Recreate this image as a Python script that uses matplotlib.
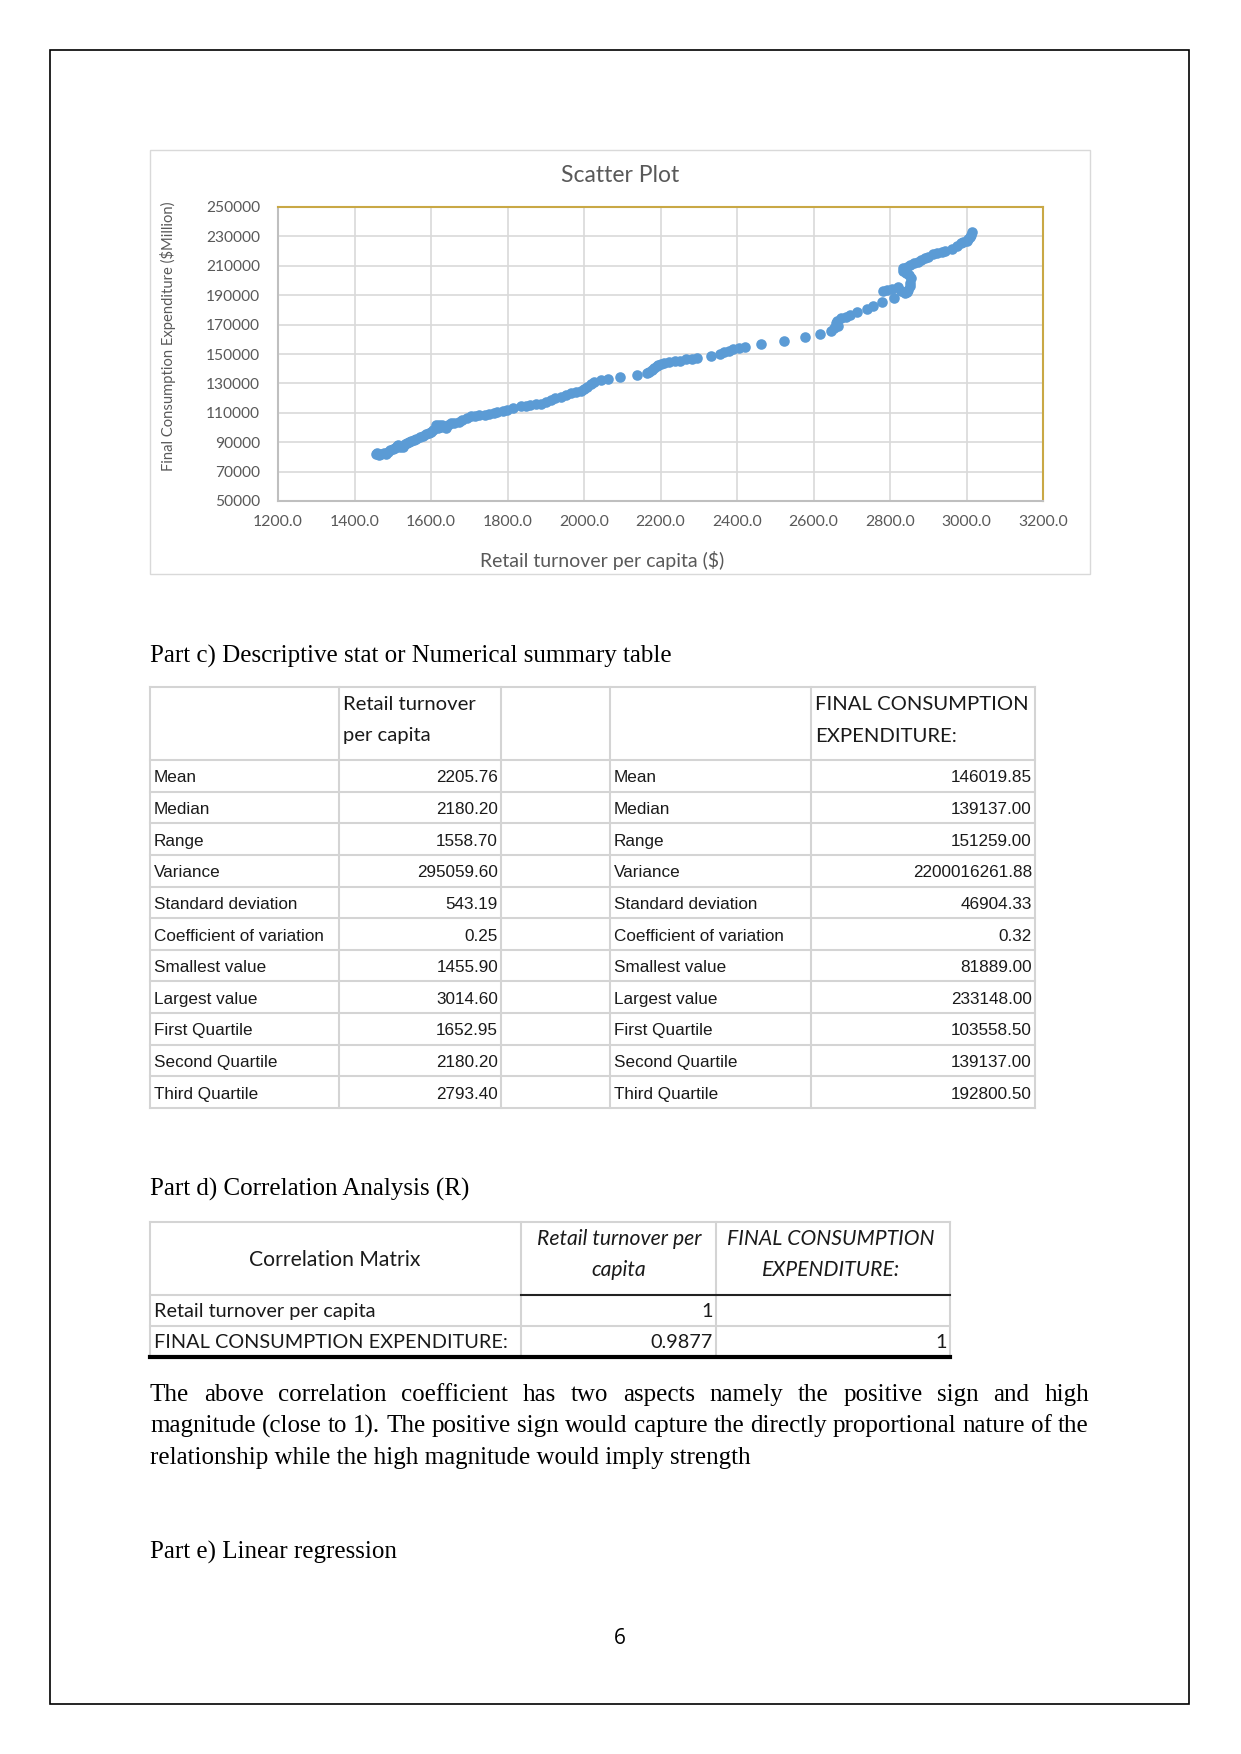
import matplotlib
matplotlib.use("Agg")
import matplotlib.pyplot as plt
from matplotlib.patches import Rectangle
from matplotlib.ticker import FuncFormatter, FixedLocator

# scatter data (retail turnover per capita vs final consumption expenditure)
retail = [1456, 1460, 1465, 1470, 1476, 1482, 1488, 1494, 1500, 1505, 1510, 1515, 1520, 1528,
          1532, 1537, 1542, 1548, 1555, 1562, 1572, 1580, 1588, 1594, 1600, 1606, 1612, 1618,
          1620, 1625, 1630, 1638, 1645, 1651, 1660, 1673, 1682, 1695, 1705, 1715, 1725, 1740,
          1751, 1765, 1773, 1787, 1799, 1815, 1834, 1848, 1860, 1875, 1887, 1900, 1913, 1925,
          1939, 1952, 1965, 1980, 1992, 2000, 2009, 2018, 2027, 2045, 2062, 2095, 2138, 2165,
          2171, 2178, 2184, 2190, 2193, 2200, 2210, 2223, 2237, 2250, 2267, 2282, 2296, 2331,
          2356, 2366, 2378, 2389, 2405, 2420, 2463, 2523, 2577, 2618, 2645, 2653, 2665, 2660,
          2662, 2673, 2685, 2695, 2715, 2739, 2756, 2778, 2811, 2782, 2793, 2804, 2822, 2830,
          2839, 2845, 2848, 2852, 2852, 2856, 2850, 2843, 2835, 2835, 2845, 2852, 2863, 2874,
          2882, 2891, 2900, 2913, 2922, 2935, 2945, 2961, 2975, 2985, 2992, 3000, 3005, 3010,
          3012, 3014.6]
fce = [81889, 82800, 81500, 82300, 82400, 82000, 83500, 84700, 85500, 86000, 87500, 88100,
       87000, 86900, 88500, 89200, 90000, 90500, 91500, 92500, 93700, 94500, 95300, 96000,
       97000, 98500, 101700, 100000, 102000, 100500, 101500, 99400, 101500, 102900, 103200,
       103900, 105000, 106300, 107500, 108000, 108500, 108800, 109200, 110000, 110300, 111200,
       111900, 113000, 114600, 114900, 115300, 115800, 116000, 117200, 118700, 119800, 121000,
       122200, 123300, 124200, 125000, 126200, 127800, 129500, 131200, 132200, 132800, 134400,
       135700, 136800, 137600, 139000, 140300, 141500, 142500, 143500, 144000, 144400, 144900,
       145200, 146400, 146800, 147100, 148800, 150300, 151100, 152200, 153200, 154300, 154900,
       156800, 159000, 161500, 163800, 165800, 167500, 169000, 171000, 172600, 174300, 175200,
       176500, 178800, 180400, 182700, 185600, 187900, 193100, 193500, 194000, 195400, 193000,
       191300, 192500, 193500, 196000, 198100, 201500, 203500, 204900, 206500, 208300, 209500,
       210500, 211600, 212800, 213900, 215100, 216300, 218000, 218800, 219600, 220300, 221300,
       223800, 225500, 226400, 227200, 228200, 229500, 231000, 233148]

x_ticks = [1200, 1400, 1600, 1800, 2000, 2200, 2400, 2600, 2800, 3000, 3200]
y_ticks = [50000, 70000, 90000, 110000, 130000, 150000, 170000, 190000, 210000, 230000, 250000]

stat_names = ["Mean", "Median", "Range", "Variance", "Standard deviation",
              "Coefficient of variation", "Smallest value", "Largest value",
              "First Quartile", "Second Quartile", "Third Quartile"]
retail_stats = ["2205.76", "2180.20", "1558.70", "295059.60", "543.19", "0.25",
                "1455.90", "3014.60", "1652.95", "2180.20", "2793.40"]
fce_stats = ["146019.85", "139137.00", "151259.00", "2200016261.88", "46904.33", "0.32",
             "81889.00", "233148.00", "103558.50", "139137.00", "192800.50"]

corr_rows = ["Retail turnover per capita", "FINAL CONSUMPTION EXPENDITURE:"]
corr_col1 = ["1", "0.9877"]
corr_col2 = ["", "1"]

para_lines = [
    "The above correlation coefficient has two aspects namely the positive sign and high",
    "magnitude (close to 1). The positive sign would capture the directly proportional nature of the",
    "relationship while the high magnitude would imply strength",
]

W, H = 1241, 1754
fig = plt.figure(figsize=(W / 100, H / 100), dpi=100)
page = fig.add_axes([0, 0, 1, 1])
page.set_xlim(0, W)
page.set_ylim(H, 0)
page.axis("off")

SERIF = ["Liberation Serif", "DejaVu Serif"]
CAL = ["Lato", "DejaVu Sans"]
NARROW = ["Liberation Sans Narrow", "Liberation Sans", "DejaVu Sans"]
GREY = "#595959"
INK = "#1a1a1a"
LINE = "#d4d4d4"
BODY = 18

page.add_patch(Rectangle((50, 50), 1139, 1654, fill=False, ec="black", lw=1.2))

# ---- scatter chart ----
page.add_patch(Rectangle((150, 150), 940, 424, fill=False, ec="#d9d9d9", lw=1))
page.text(620, 175, "Scatter Plot", family=CAL, fontsize=16.5, color=GREY, ha="center", va="center")
page.text(602, 561, "Retail turnover per capita ($)", family=CAL, fontsize=14, color=GREY,
          ha="center", va="center")
page.text(168, 336, "Final Consumption Expenditure ($Million)", family=CAL, fontsize=10.6,
          color=GREY, ha="center", va="center", rotation=90)

ax = fig.add_axes([278 / W, 1 - 501 / H, (1043 - 278) / W, (501 - 207) / H])
ax.scatter(retail, fce, s=58, color="#5b9bd5", zorder=3, linewidths=0)
ax.set_xlim(1200, 3200)
ax.set_ylim(50000, 250000)
ax.xaxis.set_major_locator(FixedLocator(x_ticks))
ax.yaxis.set_major_locator(FixedLocator(y_ticks))
ax.xaxis.set_major_formatter(FuncFormatter(lambda v, p: f"{v:.1f}"))
ax.yaxis.set_major_formatter(FuncFormatter(lambda v, p: f"{v:.0f}"))
ax.grid(True, color="#d9d9d9", lw=1.2)
ax.set_axisbelow(True)
ax.tick_params(axis="y", length=0, labelsize=11.2, labelcolor=GREY, pad=13)
ax.tick_params(axis="x", length=0, labelsize=11.4, labelcolor=GREY, pad=10)
for lab in ax.get_xticklabels() + ax.get_yticklabels():
    lab.set_family(CAL)
ax.spines["left"].set_color("#bfbfbf")
ax.spines["bottom"].set_color("#bfbfbf")
ax.spines["top"].set_color("#c9a845")
ax.spines["right"].set_color("#c9a845")
for sp in ax.spines.values():
    sp.set_linewidth(1.5)

# ---- Part c ----
page.text(150, 656, "Part c) Descriptive stat or Numerical summary table", family=SERIF,
          fontsize=BODY, ha="left", va="center")

cx = [150, 339, 501, 610, 811, 1035]
ry = [687, 760] + [760 + 31.64 * (i + 1) for i in range(len(stat_names))]
for x in cx:
    page.plot([x, x], [ry[0], ry[-1]], color=LINE, lw=1.5)
for y in ry:
    page.plot([cx[0], cx[-1]], [y, y], color=LINE, lw=1.5)
for txt, x, y in [("Retail turnover", 343, 705), ("per capita", 343, 736),
                  ("FINAL CONSUMPTION", 815, 705), ("EXPENDITURE:", 815, 736)]:
    page.text(x, y, txt, family=CAL, fontsize=14.6, color=INK, va="center")
for i, name in enumerate(stat_names):
    yc = (ry[i + 1] + ry[i + 2]) / 2 + 2
    page.text(154, yc, name, family=NARROW, fontsize=12.3, color=INK, va="center")
    page.text(498, yc, retail_stats[i], family=NARROW, fontsize=12.3, color=INK,
              va="center", ha="right")
    page.text(614, yc, name, family=NARROW, fontsize=12.3, color=INK, va="center")
    page.text(1032, yc, fce_stats[i], family=NARROW, fontsize=12.3, color=INK,
              va="center", ha="right")

# ---- Part d ----
page.text(150, 1189, "Part d) Correlation Analysis (R)", family=SERIF, fontsize=BODY,
          ha="left", va="center")
kx = [150, 521, 716, 950]
ky = [1222, 1295, 1326, 1357]
for x in kx:
    page.plot([x, x], [ky[0], ky[-1]], color=LINE, lw=1.5)
page.plot([kx[0], kx[-1]], [ky[0], ky[0]], color=LINE, lw=1.5)
page.plot([kx[0], kx[1]], [ky[1], ky[1]], color=LINE, lw=1.5)
page.plot([kx[1], kx[-1]], [ky[1], ky[1]], color="#222222", lw=1.5)
page.plot([kx[0], kx[-1]], [ky[2], ky[2]], color=LINE, lw=1.5)
page.plot([kx[0], kx[-1]], [ky[3], ky[3]], color="black", lw=3)
page.text(335, 1260, "Correlation Matrix", family=CAL, fontsize=15.2, color=INK,
          ha="center", va="center")
for txt, x, y in [("Retail turnover per", 619, 1239), ("capita", 619, 1270),
                  ("FINAL CONSUMPTION", 831, 1239), ("EXPENDITURE:", 831, 1270)]:
    page.text(x, y, txt, family=CAL, fontsize=15.2, style="italic", color=INK,
              ha="center", va="center")
for i, name in enumerate(corr_rows):
    yc = (ky[i + 1] + ky[i + 2]) / 2 + 1
    page.text(154, yc, name, family=CAL, fontsize=14.3, color=INK, va="center")
    page.text(713, yc, corr_col1[i], family=CAL, fontsize=14.3, color=INK,
              va="center", ha="right")
    page.text(947, yc, corr_col2[i], family=CAL, fontsize=14.3, color=INK,
              va="center", ha="right")

# ---- justified paragraph ----
renderer = fig.canvas.get_renderer()
left, right = 150, 1089
for li, line in enumerate(para_lines):
    y = 1395 + li * 31.3
    words = line.split(" ")
    if li == len(para_lines) - 1:
        page.text(left, y, line, family=SERIF, fontsize=BODY, va="center")
        continue
    arts = [page.text(0, y, w, family=SERIF, fontsize=BODY, va="center") for w in words]
    widths = [a.get_window_extent(renderer).width for a in arts]
    gap = (right - left - sum(widths)) / (len(words) - 1)
    x = left
    for a, w in zip(arts, widths):
        a.set_x(x)
        x += w + gap

page.text(150, 1552, "Part e) Linear regression", family=SERIF, fontsize=BODY, va="center")
page.text(620, 1638, "6", family=["Open Sans", "DejaVu Sans"], fontsize=15, ha="center",
          va="center")

fig.savefig("out.png", dpi=100)
